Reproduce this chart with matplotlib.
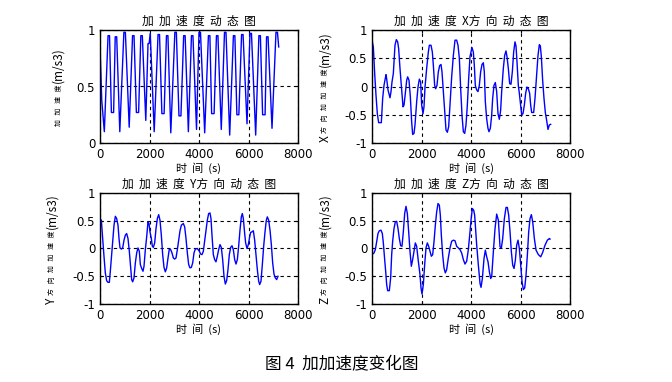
import numpy as np
import matplotlib
matplotlib.use("Agg")
import matplotlib.pyplot as plt

CJK = ['Noto Sans CJK SC', 'DejaVu Sans']
LAT = ['DejaVu Sans', 'Noto Sans CJK SC']

# jerk magnitude (top left)
jerk_t = [0, 70, 175, 325, 385, 460, 550, 615, 675, 800, 965, 1025, 1180, 1315, 1375,
          1470, 1560, 1650, 1710, 1850, 1940, 1985, 2030, 2190, 2345, 2405, 2500, 2590,
          2685, 2745, 2860, 3025, 3085, 3190, 3270, 3380, 3440, 3570, 3695, 3755, 3900,
          4000, 4060, 4230, 4380, 4440, 4510, 4610, 4705, 4765, 4900, 5030, 5090, 5240,
          5390, 5450, 5530, 5610, 5720, 5780, 5940, 6060, 6120, 6290, 6420, 6480, 6570,
          6670, 6730, 6790, 6950, 7110, 7170, 7220]
jerk_v = [0.86, 0.38, 0.10, 0.95, 0.95, 0.27, 0.27, 0.94, 0.94, 0.10, 0.98, 0.98, 0.14, 0.95, 0.95,
          0.27, 0.27, 0.95, 0.95, 0.20, 0.88, 0.88, 0.97, 0.10, 0.96, 0.96, 0.26, 0.26,
          0.95, 0.95, 0.09, 0.98, 0.98, 0.24, 0.24, 0.95, 0.95, 0.10, 0.95, 0.95, 0.12,
          0.98, 0.98, 0.09, 0.95, 0.95, 0.26, 0.26, 0.95, 0.95, 0.12, 0.98, 0.98, 0.07,
          0.95, 0.95, 0.25, 0.25, 0.96, 0.96, 0.17, 0.97, 0.97, 0.07, 0.95, 0.95, 0.25,
          0.25, 0.94, 0.94, 0.13, 0.98, 0.98, 0.85]

# X direction
x_t = [0, 54, 108, 161, 215, 269, 377, 431, 485, 539, 566, 592, 646, 727, 768, 808, 862, 929,
       983, 1037, 1077, 1131, 1199, 1253, 1293, 1347, 1401, 1441, 1495, 1549, 1603, 1643,
       1697, 1737, 1805, 1859, 1913, 1966, 2007, 2061, 2101, 2142, 2209, 2276, 2317, 2384,
       2438, 2478, 2532, 2573, 2626, 2680, 2734, 2788, 2828, 2882, 2950, 2990, 3044, 3098,
       3152, 3219, 3287, 3354, 3421, 3475, 3529, 3583, 3637, 3691, 3745, 3798, 3852, 3906,
       3960, 4040, 4094, 4134, 4174, 4228, 4282, 4336, 4390, 4444, 4498, 4538, 4579, 4633,
       4686, 4727, 4781, 4835, 4875, 4929, 4983, 5037, 5091, 5144, 5198, 5239, 5306, 5360,
       5414, 5454, 5508, 5562, 5616, 5670, 5724, 5777, 5818, 5858, 5912, 5953, 6006, 6047,
       6101, 6155, 6208, 6262, 6316, 6370, 6411, 6451, 6532, 6586, 6653, 6707, 6761, 6801,
       6842, 6895, 6949, 7003, 7057, 7111, 7165, 7219]
x_v = [0.82, 0.70, 0.23, -0.15, -0.48, -0.64, -0.64, -0.21, 0.02, 0.14, 0.21, 0.14, -0.06, -0.20,
       -0.09, 0.08, 0.23, 0.73, 0.83, 0.79, 0.67, 0.32, -0.06, -0.36, -0.33, -0.12, 0.11, 0.17,
       0.11, -0.18, -0.63, -0.85, -0.83, -0.68, -0.27, -0.01, 0.13, 0.08, -0.33, -0.48, -0.36,
       -0.01, 0.32, 0.61, 0.73, 0.73, 0.61, 0.38, 0.02, -0.04, 0.02, 0.26, 0.37, 0.39, 0.26,
       -0.09, -0.51, -0.77, -0.81, -0.71, -0.33, 0.17, 0.55, 0.82, 0.82, 0.73, 0.50, -0.04,
       -0.51, -0.80, -0.83, -0.68, -0.33, 0.14, 0.53, 0.69, 0.61, 0.38, 0.02, -0.06, -0.09,
       0.02, 0.26, 0.39, 0.42, 0.26, -0.27, -0.57, -0.74, -0.80, -0.74, -0.51, -0.21, 0.02,
       0.07, -0.09, -0.48, -0.58, -0.42, -0.09, 0.32, 0.55, 0.63, 0.53, 0.32, 0.05, 0.04,
       0.26, 0.61, 0.79, 0.72, 0.44, 0.02, -0.12, -0.33, -0.50, -0.48, -0.33, -0.12, -0.01,
       -0.04, -0.12, -0.33, -0.46, -0.46, -0.21, 0.20, 0.55, 0.74, 0.72, 0.53, 0.11, -0.21,
       -0.46, -0.60, -0.76, -0.68, -0.67]

# Y direction
y_t = [0, 54, 108, 161, 215, 269, 323, 377, 417, 458, 512, 566, 620, 673, 727, 768, 808, 862,
       916, 970, 1024, 1077, 1131, 1185, 1239, 1279, 1320, 1374, 1428, 1482, 1535, 1589, 1630,
       1684, 1737, 1778, 1832, 1886, 1939, 1980, 2020, 2074, 2115, 2155, 2209, 2263, 2317,
       2371, 2424, 2478, 2532, 2586, 2640, 2694, 2748, 2801, 2855, 2909, 2963, 3017, 3071,
       3125, 3179, 3233, 3287, 3367, 3421, 3475, 3529, 3583, 3637, 3691, 3745, 3798, 3852,
       3933, 4013, 4067, 4121, 4175, 4228, 4282, 4336, 4390, 4444, 4484, 4525, 4579, 4632,
       4686, 4740, 4794, 4848, 4902, 4956, 5010, 5064, 5117, 5171, 5225, 5279, 5333, 5387,
       5441, 5495, 5549, 5602, 5656, 5710, 5751, 5791, 5845, 5885, 5939, 5993, 6047, 6087,
       6141, 6195, 6249, 6303, 6357, 6411, 6451, 6505, 6559, 6613, 6667, 6720, 6761, 6815,
       6869, 6923, 6977, 7030, 7084, 7138, 7192]
y_v = [0.54, 0.51, 0.18, -0.14, -0.44, -0.58, -0.61, -0.61, -0.41, -0.17, 0.12, 0.42, 0.58,
       0.54, 0.42, 0.18, 0.01, -0.01, 0.01, 0.15, 0.24, 0.27, 0.18, -0.05, -0.35, -0.56, -0.60,
       -0.53, -0.26, -0.08, 0.01, -0.05, -0.29, -0.36, -0.41, -0.32, -0.02, 0.21, 0.48, 0.45,
       0.30, 0.18, 0.04, 0.02, 0.10, 0.36, 0.54, 0.61, 0.51, 0.24, -0.11, -0.34, -0.42, -0.35,
       -0.17, -0.01, -0.02, -0.08, -0.17, -0.19, -0.17, -0.02, 0.15, 0.32, 0.42, 0.45, 0.39,
       0.18, -0.08, -0.29, -0.35, -0.34, -0.26, -0.08, -0.01, 0.00, -0.05, -0.10, -0.11, -0.05,
       0.13, 0.30, 0.51, 0.63, 0.64, 0.54, 0.24, -0.11, -0.20, -0.24, -0.14, -0.02, 0.07, 0.02,
       -0.20, -0.50, -0.64, -0.58, -0.38, -0.11, 0.02, 0.05, -0.02, -0.20, -0.28, -0.20, 0.04,
       0.33, 0.57, 0.63, 0.54, 0.27, 0.10, 0.00, 0.07, 0.21, 0.29, 0.30, 0.32, 0.15, -0.11,
       -0.38, -0.59, -0.65, -0.59, -0.29, 0.04, 0.30, 0.51, 0.57, 0.51, 0.33, 0.07, -0.26,
       -0.46, -0.53, -0.56, -0.50]

# Z direction
z_t = [0, 81, 135, 188, 242, 296, 364, 417, 458, 512, 552, 593, 633, 700, 754, 795, 835, 889,
       943, 997, 1051, 1104, 1158, 1212, 1266, 1320, 1374, 1428, 1482, 1535, 1589, 1643, 1697,
       1751, 1805, 1872, 1939, 1980, 2020, 2074, 2128, 2182, 2236, 2290, 2344, 2398, 2452,
       2505, 2559, 2613, 2667, 2721, 2761, 2801, 2855, 2909, 2963, 3017, 3084, 3152, 3219,
       3287, 3354, 3421, 3489, 3556, 3623, 3691, 3758, 3825, 3892, 3960, 4000, 4054, 4108,
       4148, 4230, 4297, 4365, 4405, 4459, 4526, 4580, 4634, 4688, 4742, 4796, 4836, 4903,
       4971, 5038, 5105, 5173, 5227, 5281, 5348, 5415, 5469, 5523, 5577, 5631, 5685, 5739,
       5792, 5846, 5900, 5954, 6008, 6062, 6116, 6170, 6223, 6277, 6331, 6385, 6439, 6493,
       6560, 6628, 6722, 6816, 6897, 6991, 7086, 7166, 7193]
z_v = [-0.11, -0.08, -0.02, 0.12, 0.27, 0.32, 0.33, 0.27, 0.10, -0.20, -0.41, -0.65, -0.76,
       -0.76, -0.53, -0.11, 0.13, 0.36, 0.48, 0.49, 0.36, 0.18, 0.05, 0.04, 0.30, 0.63, 0.76,
       0.63, 0.30, -0.05, -0.32, -0.20, -0.05, 0.10, 0.04, -0.23, -0.47, -0.71, -0.82, -0.65,
       -0.29, 0.01, 0.10, 0.04, -0.05, -0.14, -0.11, 0.12, 0.42, 0.66, 0.81, 0.78, 0.60, 0.24,
       -0.11, -0.35, -0.44, -0.38, -0.17, 0.01, 0.13, 0.15, 0.14, 0.04, 0.01, -0.02, -0.08,
       -0.20, -0.28, -0.23, -0.02, 0.30, 0.51, 0.72, 0.69, 0.60, 0.06, -0.30, -0.63, -0.70,
       -0.54, -0.18, -0.03, -0.15, -0.24, -0.42, -0.54, -0.51, -0.06, 0.36, 0.62, 0.51, 0.03,
       0.01, 0.18, 0.54, 0.74, 0.74, 0.60, 0.30, -0.06, -0.30, -0.36, -0.21, 0.06, 0.15, 0.00,
       -0.30, -0.60, -0.74, -0.71, -0.48, -0.12, 0.30, 0.54, 0.61, 0.48, 0.18, -0.03, -0.11,
       -0.15, -0.07, 0.06, 0.15, 0.18, 0.17]

titles = ['加  加  速  度  动  态  图', '加  加  速  度  X方  向  动  态  图',
          '加  加  速  度  Y方  向  动  态  图', '加  加  速  度  Z方  向  动  态  图']
ylab_pieces = [[('加   加   速   度', 5.0), ('(m/s3)', 8.5)],
               [('X', 8.5), ('方   向   加   加   速   度', 5.0), ('(m/s3)', 8.5)],
               [('Y', 8.5), ('方   向   加   加   速   度', 5.0), ('(m/s3)', 8.5)],
               [('Z', 8.5), ('方   向   加   加   速   度', 5.0), ('(m/s3)', 8.5)]]
ylab_x = [-0.212, -0.237, -0.244, -0.237]
xticks = [0, 2000, 4000, 6000, 8000]
yticks_full = [-1, -0.5, 0, 0.5, 1]
yticks_top = [0, 0.5, 1]

W, H = 672, 382
fig = plt.figure(figsize=(W / 100, H / 100), dpi=100)
fig.patch.set_facecolor('white')

boxes = [(100, 30, 198, 113), (372, 30, 198, 113), (100, 193, 198, 111), (372, 193, 198, 111)]
series = [(jerk_t, jerk_v), (x_t, x_v), (y_t, y_v), (z_t, z_v)]
renderer = fig.canvas.get_renderer()

for i, (bx, by, bw, bh) in enumerate(boxes):
    ax = fig.add_axes([bx / W, 1 - (by + bh) / H, bw / W, bh / H])
    t, v = series[i]
    ax.plot(t, v, color='#0000ff', lw=1.0)
    ax.set_xlim(0, 8000)
    if i == 0:
        ax.set_ylim(0, 1)
        ax.set_yticks(yticks_top)
        ax.set_yticklabels(['0', '0.5', '1'])
    else:
        ax.set_ylim(-1, 1)
        ax.set_yticks(yticks_full)
        ax.set_yticklabels(['-1', '-0.5', '0', '0.5', '1'])
    ax.set_xticks(xticks)
    ax.set_xticklabels([str(x) for x in xticks])
    ax.grid(True, color='black', linestyle=(0, (3, 3)), linewidth=0.8)
    ax.tick_params(direction='in', length=2.5, width=0.8, labelsize=8.5, pad=3.5,
                   top=True, right=True, colors='black')
    for lab in ax.get_xticklabels() + ax.get_yticklabels():
        lab.set_family(LAT)
    for sp in ax.spines.values():
        sp.set_linewidth(1.0)
        sp.set_color('black')
    ax.set_title(titles[i], fontsize=8.5, family=CJK, pad=4)
    ax.set_xlabel('时  间  (s)', fontsize=8, family=CJK, labelpad=1)

    # vertical label built from pieces of different size, bottom to top
    txts = []
    for s, size in ylab_pieces[i]:
        txts.append(ax.text(ylab_x[i], 0, s, rotation=90, ha='center', va='bottom',
                            fontsize=size, family=CJK, transform=ax.transAxes))
    heights = [tx.get_window_extent(renderer).height / ax.bbox.height for tx in txts]
    gap = 2.0 / bh
    total = sum(heights) + gap * (len(txts) - 1)
    y0 = 0.5 - total / 2
    for tx, h in zip(txts, heights):
        tx.set_y(y0)
        y0 += h + gap

fig.text(342 / W, 1 - 365 / H, '图 4  加加速度变化图', fontsize=12, family=CJK,
         ha='center', va='center')

fig.savefig('out.png', dpi=100)
